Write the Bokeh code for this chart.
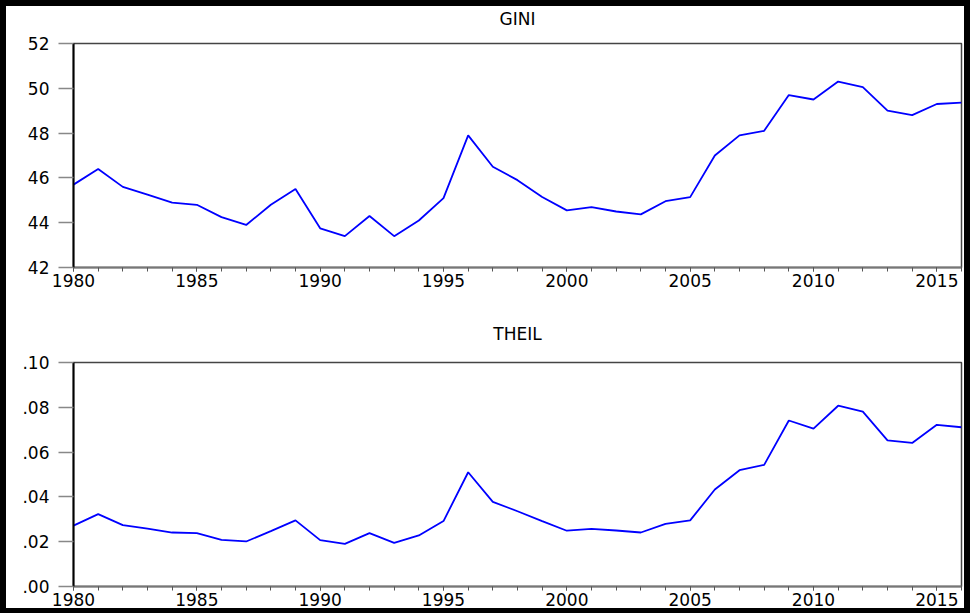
from bokeh.plotting import figure
from bokeh.layouts import column, row
from bokeh.models import FixedTicker, Range1d, CustomJSTickFormatter, Div
from bokeh.embed import file_html
from bokeh.resources import INLINE

years = list(range(1980, 2017))
gini = [45.7, 46.4, 45.6, 45.25, 44.9, 44.8, 44.25, 43.9, 44.8, 45.5,
        43.75, 43.4, 44.3, 43.4, 44.1, 45.1, 47.9, 46.5, 45.9, 45.15,
        44.55, 44.7, 44.5, 44.37, 44.96, 45.14, 47.0, 47.9, 48.1, 49.7,
        49.5, 50.3, 50.05, 49.0, 48.8, 49.3, 49.36]
theil = [0.0272, 0.0323, 0.0274, 0.0258, 0.0241, 0.0238, 0.0208, 0.0201, 0.0247, 0.0295,
         0.0207, 0.0190, 0.0238, 0.0195, 0.0228, 0.0292, 0.0510, 0.0378, 0.0336, 0.0292,
         0.0249, 0.0257, 0.0250, 0.0241, 0.0280, 0.0295, 0.0433, 0.0519, 0.0543, 0.0741,
         0.0705, 0.0807, 0.0781, 0.0652, 0.0641, 0.0722, 0.0711]
x_major = [1980, 1985, 1990, 1995, 2000, 2005, 2010, 2015]
gini_ticks = [42, 44, 46, 48, 50, 52]
theil_ticks = [0.00, 0.02, 0.04, 0.06, 0.08, 0.10]

FONT = "DejaVu Sans"
FS = "17px"
CW = 958  # content width inside the black frame
ML, FW = 67, 888


def style_title(t, standoff):
    t.align = "center"
    t.vertical_align = "bottom"
    t.text_font = FONT
    t.text_font_size = FS
    t.text_font_style = "normal"
    t.text_color = "black"
    t.standoff = standoff


def panel(title, vals, yr, yticks, height, mtop, mbot, standoff, fmt=None):
    p = figure(width=CW, height=height, x_range=Range1d(1980, 2016), y_range=Range1d(*yr),
               output_backend="svg", toolbar_location=None,
               min_border_left=ML, min_border_right=CW - ML - FW,
               min_border_top=mtop, min_border_bottom=mbot)
    if title:
        p.title.text = title
        style_title(p.title, standoff)
    p.line(years, vals, line_color="#0000FF", line_width=1.8)
    p.grid.visible = False
    p.outline_line_color = "#444444"
    p.outline_line_width = 1.5
    p.background_fill_color = "white"
    p.border_fill_color = "white"

    xa = p.below[0]
    xa.ticker = FixedTicker(ticks=x_major, minor_ticks=years)
    xa.major_tick_in = 0
    xa.major_tick_out = 4
    xa.minor_tick_in = 0
    xa.minor_tick_out = 4
    xa.axis_line_color = "#777777"
    xa.axis_line_width = 2
    xa.major_tick_line_color = "#555555"
    xa.minor_tick_line_color = "#555555"
    xa.major_label_text_font = FONT
    xa.major_label_text_font_size = FS
    xa.major_label_text_color = "black"
    xa.major_label_standoff = 2

    ya = p.left[0]
    ya.ticker = FixedTicker(ticks=yticks, minor_ticks=[])
    ya.major_tick_in = 0
    ya.major_tick_out = 15
    ya.major_tick_line_color = "#888888"
    ya.major_tick_line_width = 1.5
    ya.axis_line_color = "black"
    ya.axis_line_width = 2
    ya.major_label_text_font = FONT
    ya.major_label_text_font_size = FS
    ya.major_label_text_color = "black"
    ya.major_label_standoff = 9
    if fmt is not None:
        ya.formatter = fmt
    return p


# header strip carrying the GINI title, so it can sit high above the first frame
p0 = figure(width=CW, height=26, x_range=Range1d(0, 1), y_range=Range1d(0, 1),
            output_backend="svg", toolbar_location=None,
            x_axis_location=None, y_axis_location=None,
            min_border_left=ML, min_border_right=CW - ML - FW,
            min_border_top=0, min_border_bottom=0, title="GINI")
style_title(p0.title, 0)
p0.outline_line_color = None
p0.grid.visible = False
p0.border_fill_color = "white"
p0.background_fill_color = "white"

p1 = panel(None, gini, (42, 52), gini_ticks, 262, 11, 27, 0)
fmt = CustomJSTickFormatter(code="return tick.toFixed(2).replace(/^0/, '');")
p2 = panel("THEIL", theil, (0.0, 0.10), theil_ticks, 314, 68, 22, 38, fmt=fmt)


def bar(w, h):
    return Div(text="", width=w, height=h, margin=0,
               styles={"background-color": "black"})


inner = column(bar(CW, 6), p0, p1, p2, bar(CW, 5), spacing=0)
layout = row(bar(6, 613), inner, bar(6, 613), spacing=0)
open("out.html", "w").write(file_html(layout, INLINE))
